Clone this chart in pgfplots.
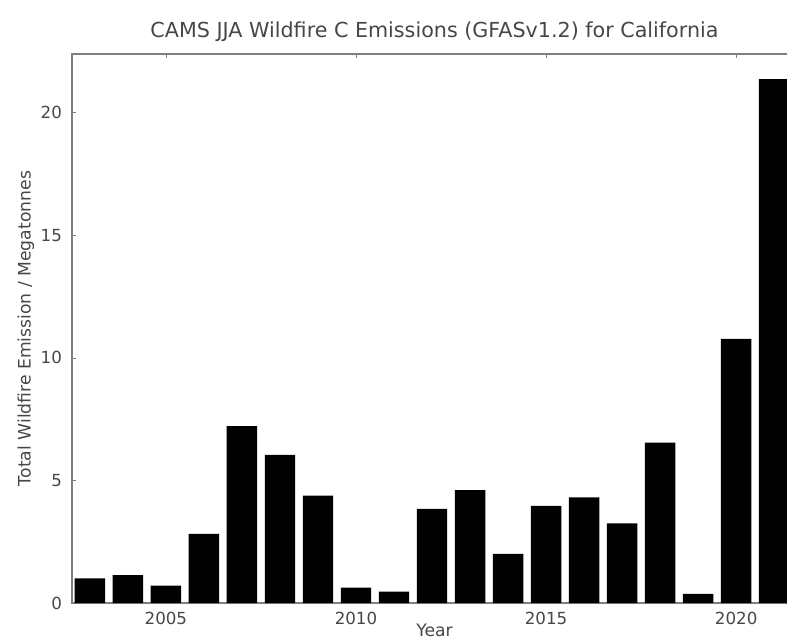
\documentclass[border=0pt]{standalone}
\usepackage{pgfplots}
\pgfplotsset{compat=1.18}
\usepackage{fontspec}
\setmainfont{DejaVu Sans}
\definecolor{txt}{gray}{0.28}
\definecolor{axc}{gray}{0.5}
\begin{document}
\begin{tikzpicture}
\begin{axis}[
  at={(54pt,27.75pt)}, anchor=south west,
  scale only axis, width=543.75pt, height=411.75pt,
  xmin=2002.53, xmax=2021.6, ymin=0, ymax=22.4,
  xtick={2005,2010,2015,2020}, ytick={0,5,10,15,20},
  xticklabel style={/pgf/number format/1000 sep={}, yshift=-3pt},
  yticklabel style={xshift=-4pt},
  /pgf/number format/assume math mode=true,
  tick label style={font=\fontsize{12.5}{14}\selectfont, text=txt},
  axis line style={axc, line width=0.9pt},
  tick style={axc, line width=0.6pt},
  major tick length=3pt,
  tick align=inside,
  xtick pos=both, ytick pos=left,
  title={CAMS JJA Wildfire C Emissions (GFASv1.2) for California},
  title style={font=\fontsize{15.5}{17}\selectfont, text=txt, yshift=0pt},
  xlabel={Year}, ylabel={Total Wildfire Emission / Megatonnes},
  label style={font=\fontsize{12.9}{14}\selectfont, text=txt},
  xlabel style={yshift=7pt},
  ylabel style={yshift=-2pt},
]
\addplot[ybar, bar width=0.8, fill=black, draw=none] coordinates {
(2003,1.01) (2004,1.14) (2005,0.71) (2006,2.82) (2007,7.22) (2008,6.04)
(2009,4.38) (2010,0.63) (2011,0.46) (2012,3.84) (2013,4.61) (2014,2.00)
(2015,3.96) (2016,4.31) (2017,3.25) (2018,6.54) (2019,0.37) (2020,10.78)
(2021,21.37)};
\end{axis}
\pgfresetboundingbox
\path[use as bounding box] (0,0) rectangle (590.25pt,480pt);
\end{tikzpicture}
\end{document}
